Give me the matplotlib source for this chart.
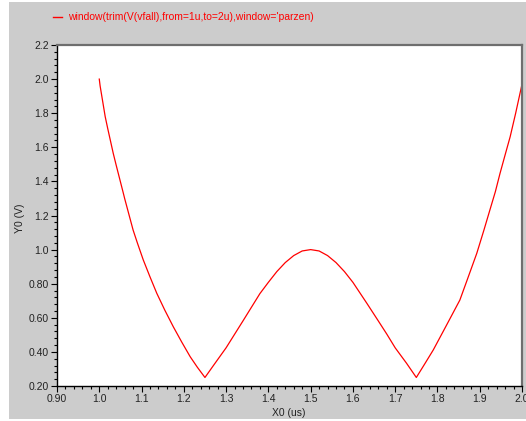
import numpy as np
import matplotlib
matplotlib.use('Agg')
import matplotlib.pyplot as plt
import matplotlib.patches as patches
from matplotlib.ticker import MultipleLocator, FixedLocator

# curve
x_us = [1.0, 1.002, 1.014, 1.02, 1.033, 1.04, 1.057, 1.06, 1.080, 1.09, 1.104, 1.12, 1.136,
        1.155, 1.175, 1.195, 1.215, 1.232, 1.25,
        1.27, 1.30, 1.34, 1.38, 1.40, 1.42, 1.44, 1.46, 1.48, 1.5,
        1.52, 1.54, 1.56, 1.58, 1.60, 1.633, 1.66, 1.68, 1.70, 1.727, 1.75,
        1.77, 1.79, 1.82, 1.853, 1.87, 1.893, 1.91, 1.924, 1.937, 1.948, 1.96, 1.972, 1.985, 2.0]
y_volt = [2.00, 1.96, 1.78, 1.71, 1.565, 1.495, 1.33, 1.30, 1.115, 1.04, 0.94, 0.84, 0.744,
          0.645, 0.548, 0.458, 0.372, 0.31, 0.25,
          0.32, 0.424, 0.582, 0.742, 0.808, 0.871, 0.924, 0.965, 0.992, 1.0,
          0.992, 0.965, 0.924, 0.871, 0.808, 0.685, 0.582, 0.505, 0.424, 0.333, 0.25,
          0.33, 0.411, 0.55, 0.704, 0.82, 0.978, 1.115, 1.232, 1.34, 1.447, 1.555, 1.662, 1.80, 1.97]

xticks = [0.9, 1.0, 1.1, 1.2, 1.3, 1.4, 1.5, 1.6, 1.7, 1.8, 1.9, 2.0]
xlabels = ['0.90', '1.0', '1.1', '1.2', '1.3', '1.4', '1.5', '1.6', '1.7', '1.8', '1.9', '2.0']
yticks = [0.2, 0.4, 0.6, 0.8, 1.0, 1.2, 1.4, 1.6, 1.8, 2.0, 2.2]
ylabels = ['0.20', '0.40', '0.60', '0.80', '1.0', '1.2', '1.4', '1.6', '1.8', '2.0', '2.2']

legend_text = "window(trim(V(vfall),from=1u,to=2u),window='parzen)"

plt.rcParams['font.family'] = ['Liberation Sans', 'DejaVu Sans']

W, H = 526, 421
fig = plt.figure(figsize=(W / 100, H / 100), dpi=100, facecolor='white')

# gray panel behind everything
bg = patches.Rectangle((9 / W, 2 / H), 1 - 9 / W, (419 - 2) / H, transform=fig.transFigure,
                       facecolor='#cccccc', edgecolor='none', zorder=-10)
fig.patches.append(bg)

ax = fig.add_axes([57 / W, (H - 386) / H, (522 - 57) / W, (386 - 45) / H])
ax.set_zorder(1)
ax.set_facecolor('white')

ax.plot(x_us, y_volt, color='#ff0000', lw=0.9)

ax.set_xlim(0.9, 2.0)
ax.set_ylim(0.2, 2.2)
ax.xaxis.set_major_locator(FixedLocator(xticks))
ax.set_xticklabels(xlabels)
ax.yaxis.set_major_locator(FixedLocator(yticks))
ax.set_yticklabels(ylabels)
ax.xaxis.set_minor_locator(MultipleLocator(0.02))
ax.yaxis.set_minor_locator(MultipleLocator(0.04))

ax.tick_params(which='major', direction='out', length=4, width=0.8, color='black',
               labelsize=7.5, labelcolor='#222222', pad=2)
ax.tick_params(which='minor', direction='out', length=2, width=0.8, color='black')

for s in ['left', 'bottom']:
    ax.spines[s].set_color('black')
    ax.spines[s].set_linewidth(1.0)
for s in ['top', 'right']:
    ax.spines[s].set_color('#6e6e6e')
    ax.spines[s].set_linewidth(1.6)

fig.text(20 / W, 1 - 218 / H, 'Y0 (V)', rotation=90, ha='center', va='center',
         fontsize=7.5, color='#222222')
fig.text(289 / W, 1 - 413 / H, 'X0 (us)', ha='center', va='center',
         fontsize=7.5, color='#222222')

# legend entry at top
fig.lines.append(plt.Line2D([53 / W, 62 / W], [1 - 17 / H, 1 - 17 / H], transform=fig.transFigure,
                            color='#ff0000', lw=1.0))
fig.text(68 / W, 1 - 17 / H, legend_text, ha='left', va='center', fontsize=7.5, color='#ff0000')

plt.savefig('out.png', dpi=100, facecolor='white')
